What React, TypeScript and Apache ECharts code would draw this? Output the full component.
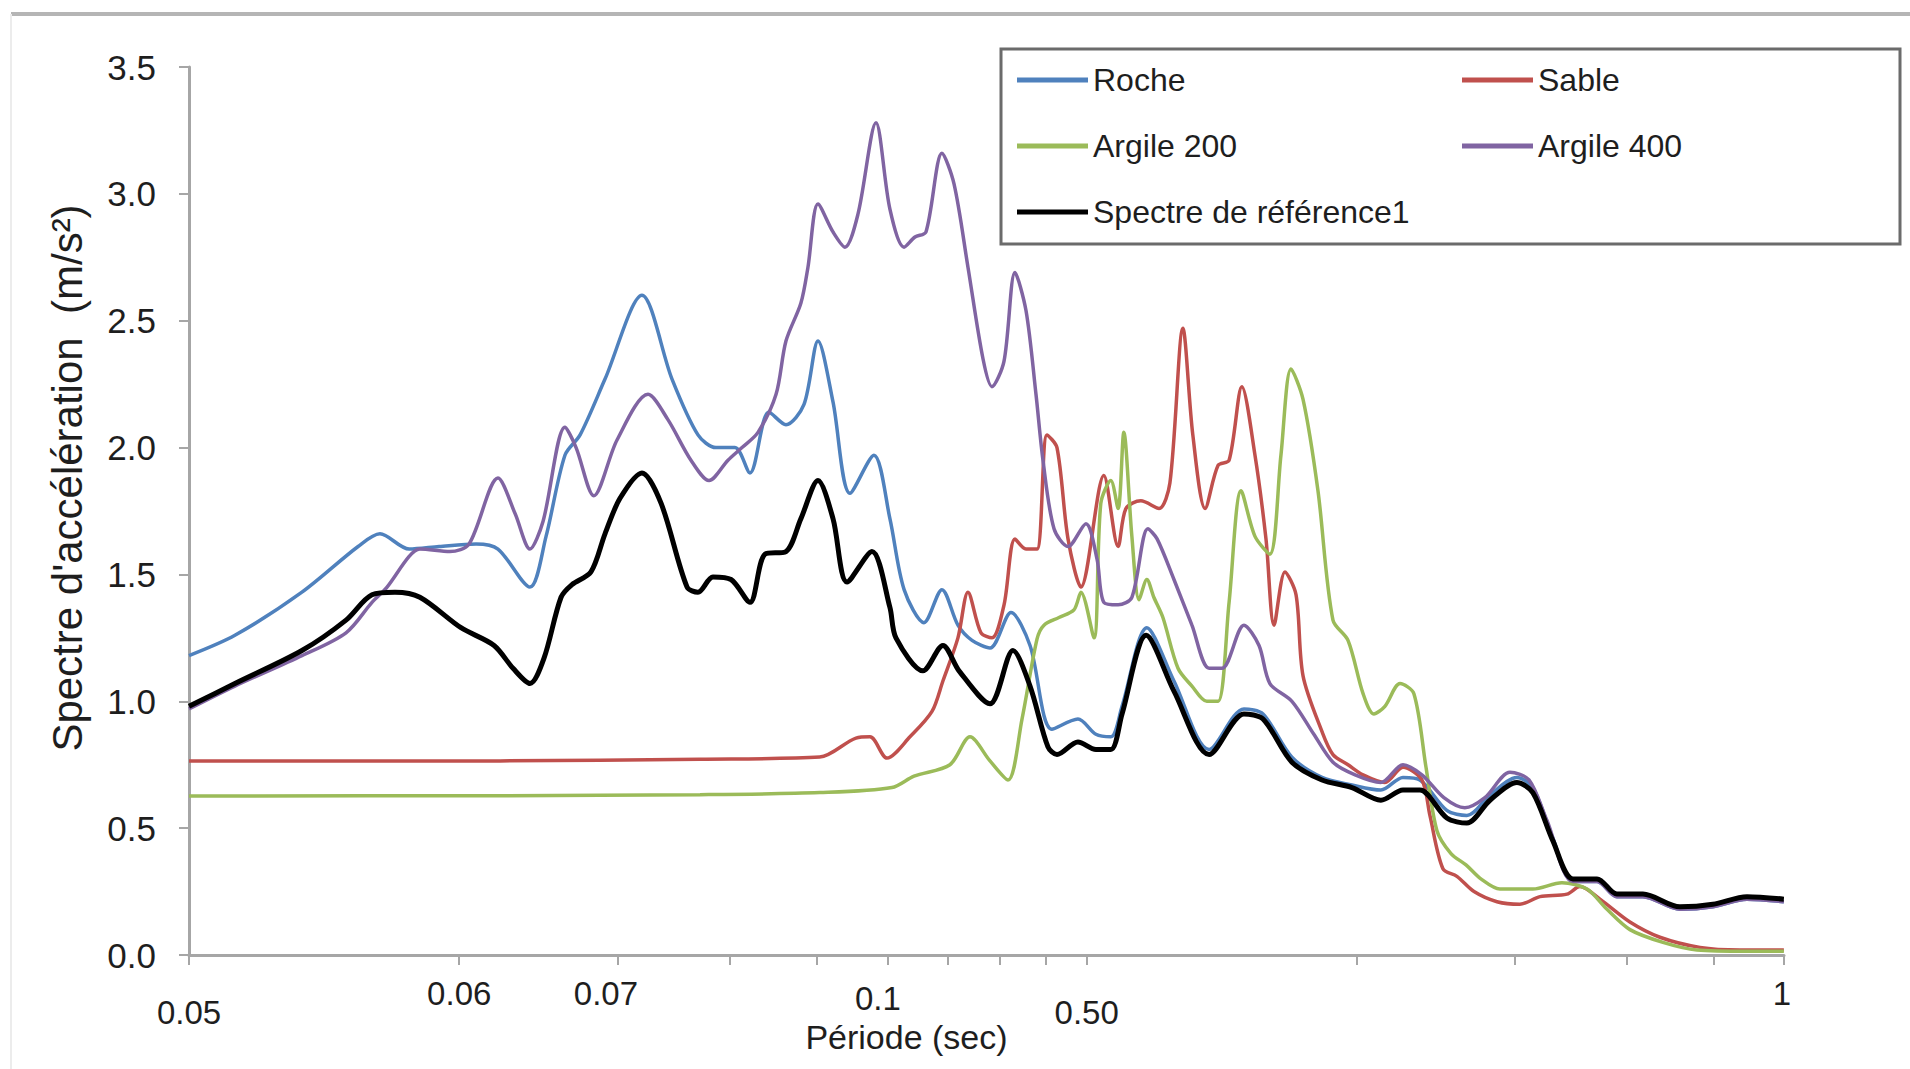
import React, { useEffect, useRef } from "react";
import * as echarts from "echarts";

// Periods on a log axis (axis runs from 0.01 to 0.5982), spectral acceleration in m/s²
const roche: [number, number][] = [
  [0.01, 1.18], [0.01125, 1.26], [0.01336, 1.43], [0.01543, 1.61], [0.01632, 1.66], [0.01759, 1.6],
  [0.01899, 1.61], [0.02088, 1.62], [0.02209, 1.6], [0.02398, 1.45], [0.02499, 1.65], [0.02623, 1.97],
  [0.02727, 2.05], [0.02907, 2.27], [0.03196, 2.6], [0.03452, 2.27], [0.0369, 2.05], [0.03864, 2.0],
  [0.04057, 2.0], [0.04216, 1.9], [0.04426, 2.14], [0.04624, 2.09], [0.04843, 2.17], [0.0502, 2.42],
  [0.05217, 2.18], [0.05449, 1.82], [0.05795, 1.97], [0.06037, 1.72], [0.06261, 1.44], [0.06588, 1.31],
  [0.06899, 1.44], [0.07188, 1.3], [0.07452, 1.24], [0.07804, 1.21], [0.08236, 1.35], [0.08648, 1.22],
  [0.09147, 0.89], [0.09779, 0.93], [0.1024, 0.87], [0.1064, 0.86], [0.1095, 0.98], [0.1167, 1.29],
  [0.1251, 1.08], [0.1369, 0.81], [0.1497, 0.97], [0.1572, 0.95], [0.1693, 0.78], [0.1829, 0.7],
  [0.1975, 0.67], [0.2127, 0.65], [0.2251, 0.7], [0.2351, 0.69], [0.2519, 0.57], [0.2652, 0.55],
  [0.2814, 0.63], [0.3015, 0.7], [0.3141, 0.66], [0.3307, 0.46], [0.3481, 0.29], [0.3703, 0.29],
  [0.3897, 0.23], [0.4166, 0.23], [0.4581, 0.18], [0.4985, 0.19], [0.544, 0.22], [0.598, 0.21],
];

const sable: [number, number][] = [
  [0.01, 0.765], [0.02221, 0.765], [0.03709, 0.772], [0.05042, 0.78], [0.05534, 0.855], [0.05736, 0.86],
  [0.05992, 0.776], [0.06356, 0.86], [0.06725, 0.96], [0.06916, 1.08], [0.07188, 1.25], [0.07375, 1.43],
  [0.07625, 1.27], [0.07844, 1.25], [0.0809, 1.38], [0.0832, 1.64], [0.08558, 1.6], [0.08804, 1.6],
  [0.09032, 2.05], [0.09267, 2.0], [0.09533, 1.64], [0.09855, 1.45], [0.1045, 1.89], [0.1084, 1.61],
  [0.1106, 1.76], [0.1149, 1.79], [0.1204, 1.76], [0.1238, 1.86], [0.128, 2.47], [0.1313, 2.05],
  [0.1355, 1.76], [0.1401, 1.93], [0.1441, 1.95], [0.1489, 2.24], [0.154, 1.97], [0.1584, 1.64],
  [0.1617, 1.3], [0.1663, 1.51], [0.1711, 1.42], [0.1742, 1.1], [0.1829, 0.88], [0.1881, 0.79],
  [0.1955, 0.75], [0.2032, 0.71], [0.2149, 0.68], [0.2251, 0.74], [0.2363, 0.69], [0.2412, 0.55],
  [0.2494, 0.34], [0.2585, 0.31], [0.2701, 0.25], [0.2865, 0.21], [0.3038, 0.2], [0.3199, 0.23],
  [0.3428, 0.24], [0.3544, 0.27], [0.3731, 0.22], [0.4029, 0.13], [0.4351, 0.07], [0.4822, 0.03],
  [0.5343, 0.02], [0.598, 0.02],
];

const argile200: [number, number][] = [
  [0.01, 0.627], [0.02221, 0.628], [0.03709, 0.632], [0.05042, 0.64], [0.06068, 0.66], [0.06422, 0.705],
  [0.07042, 0.75], [0.07413, 0.86], [0.07804, 0.765], [0.08173, 0.69], [0.08472, 0.93], [0.08804, 1.245],
  [0.08963, 1.3], [0.09314, 1.33], [0.09679, 1.36], [0.09855, 1.43], [0.1019, 1.25], [0.1037, 1.78],
  [0.1064, 1.87], [0.1084, 1.76], [0.11, 2.06], [0.1123, 1.65], [0.1144, 1.4], [0.1167, 1.48],
  [0.1188, 1.41], [0.1216, 1.33], [0.1264, 1.13], [0.131, 1.06], [0.1361, 1.0], [0.1401, 1.0],
  [0.1441, 1.39], [0.1486, 1.83], [0.154, 1.65], [0.16, 1.58], [0.1646, 1.97], [0.1689, 2.31],
  [0.1742, 2.19], [0.181, 1.83], [0.1881, 1.32], [0.1955, 1.24], [0.2032, 1.03], [0.2089, 0.95],
  [0.2149, 0.98], [0.2234, 1.07], [0.2315, 1.03], [0.2388, 0.74], [0.2456, 0.49], [0.2546, 0.4],
  [0.2646, 0.355], [0.2749, 0.3], [0.2887, 0.26], [0.3141, 0.26], [0.3384, 0.285], [0.3609, 0.26],
  [0.3799, 0.18], [0.4029, 0.1], [0.4385, 0.05], [0.4785, 0.02], [0.544, 0.015], [0.598, 0.015],
];

const argile400: [number, number][] = [
  [0.01, 0.97], [0.01125, 1.06], [0.01336, 1.18], [0.01496, 1.27], [0.01599, 1.39], [0.01662, 1.45],
  [0.01758, 1.57], [0.01808, 1.6], [0.01953, 1.59], [0.02051, 1.62], [0.02209, 1.88], [0.02308, 1.74],
  [0.02398, 1.6], [0.0248, 1.71], [0.02623, 2.08], [0.02699, 2.0], [0.02825, 1.81], [0.02998, 2.03],
  [0.03246, 2.21], [0.03416, 2.11], [0.03624, 1.95], [0.03796, 1.87], [0.03985, 1.95], [0.04131, 2.0],
  [0.04304, 2.06], [0.04508, 2.21], [0.04624, 2.42], [0.04805, 2.57], [0.04892, 2.71], [0.0502, 2.96],
  [0.05217, 2.85], [0.0538, 2.79], [0.05562, 2.92], [0.05825, 3.28], [0.06037, 2.94], [0.0626, 2.79],
  [0.06438, 2.83], [0.06622, 2.85], [0.06899, 3.16], [0.07115, 3.04], [0.07376, 2.71], [0.07665, 2.35],
  [0.07843, 2.24], [0.08089, 2.34], [0.0832, 2.69], [0.08559, 2.54], [0.08781, 2.21], [0.0894, 1.95],
  [0.09197, 1.68], [0.09533, 1.61], [0.09982, 1.7], [0.1027, 1.56], [0.1045, 1.39], [0.1084, 1.38],
  [0.1123, 1.41], [0.117, 1.68], [0.1198, 1.64], [0.1251, 1.48], [0.131, 1.3], [0.1369, 1.13],
  [0.1415, 1.13], [0.1497, 1.3], [0.1556, 1.22], [0.16, 1.07], [0.1693, 1.0], [0.1791, 0.87],
  [0.1881, 0.76], [0.1991, 0.71], [0.2127, 0.68], [0.2251, 0.75], [0.2363, 0.71], [0.25, 0.62],
  [0.2638, 0.58], [0.2777, 0.62], [0.2962, 0.72], [0.311, 0.69], [0.3257, 0.53], [0.3481, 0.29],
  [0.3703, 0.29], [0.3897, 0.23], [0.4166, 0.23], [0.4581, 0.18], [0.4985, 0.19], [0.544, 0.22],
  [0.598, 0.21],
];

const spectreReference: [number, number][] = [
  [0.01, 0.98], [0.01125, 1.07], [0.01336, 1.2], [0.01496, 1.32], [0.01599, 1.42], [0.01696, 1.43],
  [0.01808, 1.41], [0.02009, 1.29], [0.02187, 1.22], [0.02296, 1.13], [0.02398, 1.07], [0.02486, 1.17],
  [0.02597, 1.41], [0.02671, 1.46], [0.02804, 1.51], [0.02907, 1.66], [0.03021, 1.8], [0.03196, 1.9],
  [0.03357, 1.78], [0.03588, 1.45], [0.0369, 1.43], [0.03834, 1.49], [0.04016, 1.48], [0.04216, 1.39],
  [0.04382, 1.58], [0.04624, 1.59], [0.04805, 1.72], [0.0502, 1.87], [0.05217, 1.72], [0.05408, 1.47],
  [0.05765, 1.59], [0.06037, 1.37], [0.06131, 1.25], [0.06571, 1.12], [0.06916, 1.22], [0.07208, 1.12],
  [0.07804, 0.99], [0.08278, 1.2], [0.08648, 1.06], [0.09055, 0.82], [0.09267, 0.79], [0.09779, 0.84],
  [0.1024, 0.81], [0.1064, 0.81], [0.1095, 0.95], [0.1165, 1.26], [0.1251, 1.04], [0.1369, 0.79],
  [0.1497, 0.95], [0.1572, 0.93], [0.1693, 0.76], [0.1829, 0.69], [0.1975, 0.66], [0.2127, 0.61],
  [0.2251, 0.65], [0.2351, 0.65], [0.2519, 0.54], [0.2652, 0.52], [0.2814, 0.61], [0.3015, 0.68],
  [0.3141, 0.64], [0.3307, 0.45], [0.3481, 0.3], [0.3703, 0.3], [0.3897, 0.24], [0.4166, 0.24],
  [0.4581, 0.19], [0.4985, 0.2], [0.544, 0.23], [0.598, 0.22],
];

const seriesNames = ["Roche", "Sable", "Argile 200", "Argile 400", "Spectre de référence1"];
const seriesColors = ["#4F81BD", "#C0504D", "#9BBB59", "#8064A2", "#000000"];

// x-axis tick marks (log minor grid) and the hand-placed label texts
const xTickValues = [0.01, 0.02, 0.03, 0.04, 0.05, 0.06, 0.07, 0.08, 0.09, 0.1, 0.2, 0.3, 0.4, 0.5, 0.598];
const xLabelValues = [0.01, 0.02, 0.02914, 0.05854, 0.1, 0.595];
const xLabelTexts = ["0.05", "0.06", "0.07", "0.1", "0.50", "1"];

const FONT = "'Liberation Sans', Arial, sans-serif";
const TEXT = "#1e1e1e";
const AXIS = "#a6a6a6";

export default function App() {
  const ref = useRef<HTMLDivElement>(null);

  useEffect(() => {
    if (!ref.current) return;
    const chart = echarts.init(ref.current, undefined, { renderer: "svg" });

    const drops = [38, 0, 0, 10, 38, 0];
    const rich: Record<string, any> = {};
    drops.forEach((d, i) => {
      rich["l" + i] = { fontSize: 33, fontFamily: FONT, color: TEXT, lineHeight: 33, padding: [d, 0, 0, 0] };
    });

    const datasets = [roche, sable, argile200, argile400, spectreReference];

    chart.setOption({
      animation: false,
      backgroundColor: "#ffffff",
      grid: { left: 189, right: 126, top: 67, bottom: 114, containLabel: false, outerBoundsMode: "none" },
      legend: {
        data: seriesNames.map((n, i) => ({ name: n, icon: "rect", itemStyle: { color: seriesColors[i] } })),
        left: 1001,
        top: 49,
        width: 900,
        orient: "horizontal",
        padding: [13, 23, 14, 16],
        itemGap: 30,
        itemWidth: 71,
        itemHeight: 5,
        borderColor: "#6b6b6b",
        borderWidth: 3,
        backgroundColor: "#ffffff",
        selectedMode: false,
        textStyle: { fontSize: 32, lineHeight: 36, width: 339, color: TEXT, fontFamily: FONT },
      },
      xAxis: {
        type: "log",
        logBase: 10,
        min: 0.01,
        max: 0.5982,
        name: "Période (sec)",
        nameLocation: "middle",
        nameGap: 65,
        nameMoveOverlap: false,
        nameTextStyle: { fontSize: 34, lineHeight: 34, color: TEXT, fontFamily: FONT, padding: [0, 160, 0, 0] },
        axisLine: { show: true, lineStyle: { color: AXIS, width: 3 } },
        axisTick: { show: true, inside: false, length: 10, customValues: xTickValues, lineStyle: { color: AXIS, width: 2 } },
        minorTick: { show: false },
        splitLine: { show: false },
        axisLabel: {
          show: true,
          margin: 22,
          customValues: xLabelValues,
          fontSize: 33,
          fontFamily: FONT,
          color: TEXT,
          formatter: (v: number) => {
            const i = xLabelValues.findIndex((t) => Math.abs(t - v) / t < 0.01);
            return i < 0 ? "" : `{l${i}|${xLabelTexts[i]}}`;
          },
          rich,
        },
      },
      yAxis: {
        type: "value",
        min: 0,
        max: 3.5,
        interval: 0.5,
        name: "Spectre d'accélération  (m/s²)",
        nameLocation: "middle",
        nameGap: 100,
        nameRotate: 90,
        nameMoveOverlap: false,
        nameTextStyle: { fontSize: 42, lineHeight: 44, color: TEXT, fontFamily: FONT, padding: [0, 0, 0, 66] },
        axisLine: { show: true, lineStyle: { color: AXIS, width: 3 } },
        axisTick: { show: true, inside: false, length: 10, lineStyle: { color: AXIS, width: 2 } },
        splitLine: { show: false },
        axisLabel: {
          margin: 33,
          fontSize: 35,
          fontFamily: FONT,
          color: TEXT,
          formatter: (v: number) => v.toFixed(1),
        },
      },
      graphic: [
        { type: "line", shape: { x1: 11, y1: 14, x2: 1910, y2: 14 }, style: { stroke: "#b5b5b5", lineWidth: 4 }, silent: true },
        { type: "line", shape: { x1: 11, y1: 14, x2: 11, y2: 1069 }, style: { stroke: "#ececec", lineWidth: 2 }, silent: true },
      ],
      series: datasets.map((d, i) => ({
        type: "line",
        name: seriesNames[i],
        data: d,
        symbol: "none",
        showSymbol: false,
        smooth: 0.3,
        silent: true,
        emphasis: { disabled: true },
        color: seriesColors[i],
        itemStyle: { color: seriesColors[i] },
        lineStyle: { color: seriesColors[i], width: i === 4 ? 5 : 3.5 },
        z: 2 + i,
      })),
    });

    return () => chart.dispose();
  }, []);

  return (
    <div
      ref={ref}
      style={{ position: "fixed", left: 0, top: 0, width: 1910, height: 1069, background: "#fff" }}
    />
  );
}
